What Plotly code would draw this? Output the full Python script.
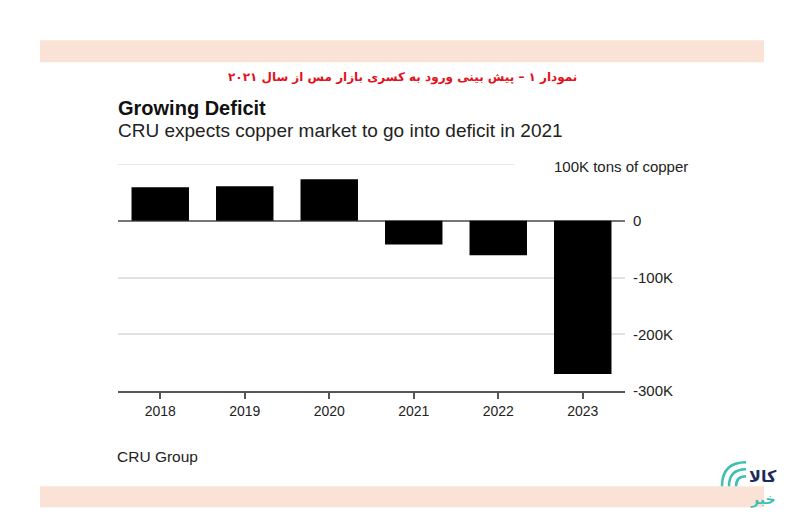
import plotly.graph_objects as go

# ---------- data ----------
years = ["2018", "2019", "2020", "2021", "2022", "2023"]
balance = [59000, 61000, 73000, -42000, -61000, -270000]   # tons of copper

ytick_vals = [-300000, -200000, -100000, 0]
ytick_text = ["-300K", "-200K", "-100K", "0"]

fa_title = "نمودار ۱ – پیش بینی ورود به کسری بازار مس از سال ۲۰۲۱"
title = "Growing Deficit"
subtitle = "CRU expects copper market to go into deficit in 2021"
unit_label = "100K tons of copper"
source = "CRU Group"

# ---------- layout helpers (window pixel -> paper) ----------
OFF = 8                      # page body margin
W, H = 792 - OFF, 514 - OFF
L, R, T, B = 118, 625, 164, 391.5   # plot area in window pixels


def px(x):
    return (x - L) / (R - L)


def py(y):
    return (B - y) / (B - T)


FONT = "Liberation Sans, Arial, sans-serif"
PEACH = "#fae3d6"
TEAL = "#3dbfb3"
NAVY = "#1d2a5b"
GRID = "#e1e1e1"

fig = go.Figure()
fig.add_trace(go.Bar(
    x=years, y=balance,
    marker=dict(color="black", line=dict(width=0)),
    hovertemplate="%{x}: %{y:,}<extra></extra>",
))

fig.update_layout(
    width=W, height=H,
    margin=dict(l=L - OFF, r=W - (R - OFF), t=T - OFF, b=H - (B - OFF), pad=0),
    paper_bgcolor="white", plot_bgcolor="white",
    showlegend=False,
    bargap=0.32,
    font=dict(family=FONT, size=14, color="#222"),
)

fig.update_xaxes(
    showgrid=False,
    showline=True, linecolor="#555", linewidth=1.5,
    ticks="outside", ticklen=6, tickcolor="#555", tickwidth=1.5,
    tickfont=dict(size=14, color="#222"),
)
fig.update_yaxes(
    side="right",
    range=[-300000, 100000],
    tickvals=ytick_vals, ticktext=ytick_text,
    showgrid=True, gridcolor=GRID, gridwidth=1.5,
    zeroline=True, zerolinecolor="#777", zerolinewidth=1.5,
    ticks="", ticklabelstandoff=7,
    tickfont=dict(size=15, color="#222"),
)

# top gridline (100K) stops before the unit label
fig.add_shape(type="line", xref="paper", yref="y",
              x0=0, x1=px(514), y0=100000, y1=100000,
              line=dict(color=GRID, width=1.5))

# peach bands top and bottom
for y0, y1 in [(40, 62), (487, 508)]:
    fig.add_shape(type="rect", xref="paper", yref="paper",
                  x0=px(40), x1=px(764), y0=py(y1), y1=py(y0),
                  fillcolor=PEACH, line=dict(width=0), layer="below")

# logo arcs
cx, cy = 746, 487
for r in [10, 17, 24]:
    path = (f"M {px(cx - r)} {py(cy)} Q {px(cx - r)} {py(cy - r)} "
            f"{px(cx)} {py(cy - r)}")
    fig.add_shape(type="path", xref="paper", yref="paper", path=path,
                  line=dict(color=TEAL, width=2.5))

annos = [
    dict(x=px(402), y=py(77), text=f"<b>{fa_title}</b>", xanchor="center",
         font=dict(family="DejaVu Sans", size=12, color="#e3111b")),
    dict(x=px(116), y=py(108), text=f"<b>{title}</b>", xanchor="left",
         font=dict(family=FONT, size=20, color="#111")),
    dict(x=px(116), y=py(130), text=subtitle, xanchor="left",
         font=dict(family=FONT, size=19, color="#222")),
    dict(x=px(552), y=py(167), text=unit_label, xanchor="left",
         font=dict(family=FONT, size=15, color="#222")),
    dict(x=px(115), y=py(457), text=source, xanchor="left",
         font=dict(family=FONT, size=15.5, color="#222")),
    dict(x=px(763), y=py(477), text="<b>کالا</b>", xanchor="center",
         font=dict(family="DejaVu Sans", size=16, color=NAVY)),
    dict(x=px(763), y=py(500), text="<b>خبر</b>", xanchor="center",
         font=dict(family="DejaVu Sans", size=14, color=TEAL)),
]
for a in annos:
    fig.add_annotation(xref="paper", yref="paper", showarrow=False,
                       yanchor="middle", **a)

fig.write_html("out.html")
